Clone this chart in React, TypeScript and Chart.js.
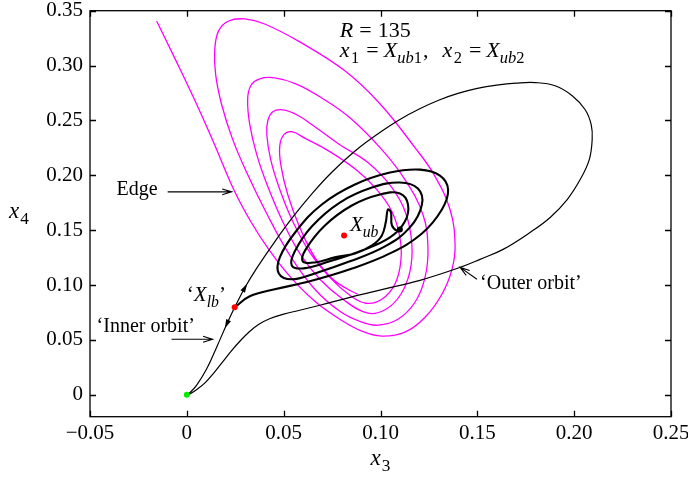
import { useEffect, useRef } from 'react';
import { Chart, registerables } from 'chart.js';

Chart.register(...registerables);

const FONT = '"Liberation Serif", "Times New Roman", Times, serif';

// Axis ticks
const xTicks = [-0.05, 0, 0.05, 0.1, 0.15, 0.2, 0.25];
const yTicks = [0, 0.05, 0.1, 0.15, 0.2, 0.25, 0.3, 0.35];

// Edge trajectory (magenta): the incoming 'Edge' branch
const edgeApproach: [number, number][] = [
  [-0.0156, 0.3406], [-0.0058, 0.3052], [0.004, 0.2688], [0.0139, 0.2297], [0.0242, 0.187],
  [0.033, 0.1579], [0.0423, 0.1325], [0.0532, 0.1079], [0.0661, 0.0852], [0.079, 0.0688],
  [0.0904, 0.0579], [0.1007, 0.0534],
];
// ... followed by four nested turns round X_ub
const edgeLoop1: [number, number][] = [
  [0.1126, 0.057], [0.123, 0.0706], [0.1317, 0.0916], [0.1369, 0.1143], [0.1385, 0.137],
  [0.1359, 0.1688], [0.1276, 0.2007], [0.1178, 0.2252], [0.0997, 0.2652], [0.0816, 0.2952],
  [0.0583, 0.3216], [0.0402, 0.3379], [0.0299, 0.3425], [0.0216, 0.3406], [0.0164, 0.3316],
  [0.0144, 0.3143], [0.0149, 0.2915], [0.018, 0.2643], [0.0237, 0.2325], [0.0314, 0.2007],
  [0.0407, 0.167], [0.0532, 0.127], [0.0661, 0.0961], [0.079, 0.0761], [0.0904, 0.0661],
  [0.0987, 0.0634],
];
const edgeLoop2: [number, number][] = [
  [0.109, 0.0688], [0.1178, 0.0843], [0.123, 0.107], [0.1245, 0.1343], [0.1219, 0.1643],
  [0.1126, 0.1961], [0.1007, 0.2234], [0.0842, 0.2525], [0.0687, 0.2716], [0.0563, 0.2834],
  [0.0454, 0.2888], [0.0376, 0.2879], [0.033, 0.2816], [0.0314, 0.2688], [0.0325, 0.2461],
  [0.0361, 0.2188], [0.0418, 0.1897], [0.0495, 0.1579], [0.0583, 0.1288], [0.0687, 0.1052],
  [0.0806, 0.087], [0.0935, 0.0743],
];
const edgeLoop3: [number, number][] = [
  [0.1028, 0.0779], [0.1105, 0.0916], [0.1152, 0.1125], [0.1162, 0.137], [0.1131, 0.1652],
  [0.1059, 0.1888], [0.0935, 0.2116], [0.079, 0.2279], [0.0661, 0.2443], [0.0568, 0.2552],
  [0.0495, 0.2597], [0.0444, 0.2579], [0.0418, 0.2497], [0.0413, 0.237], [0.0433, 0.2143],
  [0.048, 0.187], [0.0547, 0.1579], [0.0635, 0.1297], [0.0738, 0.107], [0.0842, 0.0906],
  [0.0925, 0.0834],
];
const edgeLoop4: [number, number][] = [
  [0.1007, 0.087], [0.1074, 0.1007], [0.1105, 0.1216], [0.11, 0.1434], [0.1059, 0.167],
  [0.0981, 0.187], [0.0873, 0.2052], [0.0738, 0.2216], [0.0614, 0.2334], [0.0542, 0.2397],
  [0.0501, 0.237], [0.048, 0.227], [0.0485, 0.2097], [0.0521, 0.1825], [0.0583, 0.1525],
  [0.0661, 0.1252], [0.0754, 0.1052], [0.0831, 0.0961], [0.0883, 0.0916],
];

// 'Outer orbit' (thin black): from X_lb, round the large loop, down to the origin
const outerOrbit: [number, number][] = [
  [0.0247, 0.0797], [0.03, 0.0977], [0.0361, 0.1154], [0.045, 0.1385], [0.055, 0.1625],
  [0.065, 0.184], [0.075, 0.203], [0.0878, 0.2235], [0.1, 0.2394], [0.11, 0.2509],
  [0.12, 0.2604], [0.13, 0.2684], [0.14, 0.2746], [0.15, 0.2792], [0.16, 0.2822],
  [0.17, 0.284], [0.18, 0.2845], [0.1902, 0.2816], [0.199, 0.2725], [0.2057, 0.2597],
  [0.2088, 0.2461], [0.2093, 0.2325], [0.2078, 0.2143], [0.2031, 0.1961], [0.1964, 0.1779],
  [0.1876, 0.1616], [0.1772, 0.1479], [0.1633, 0.1325], [0.1514, 0.1234], [0.1411, 0.1161],
  [0.1204, 0.1043], [0.1012, 0.0961], [0.0842, 0.0888], [0.0687, 0.0816], [0.0583, 0.077],
  [0.05, 0.0735], [0.043, 0.0695], [0.037, 0.064], [0.032, 0.057], [0.0275, 0.049],
  [0.023, 0.04], [0.0185, 0.03], [0.014, 0.02], [0.0095, 0.011], [0.005, 0.0045],
  [0.0018, 0.001], [0, 0],
];

// 'Inner orbit' (thin black): from X_lb down to the origin
const innerOrbit: [number, number][] = [
  [0.0247, 0.0797], [0.0206, 0.0643], [0.0154, 0.0434], [0.0102, 0.0234], [0.0051, 0.0088],
  [0.0014, 0.0016], [0, 0],
];

// Thick black trajectory spiralling round X_ub
const spiralOrbit: [number, number][] = [
  [0.0247, 0.0797], [0.0325, 0.0897], [0.0454, 0.0961], [0.0635, 0.1034], [0.0842, 0.1143],
  [0.1049, 0.1288], [0.1214, 0.147], [0.1317, 0.1688], [0.1349, 0.187], [0.1307, 0.1997],
  [0.1204, 0.2052], [0.1049, 0.2025], [0.0868, 0.1916], [0.0697, 0.1734], [0.0563, 0.1488],
  [0.048, 0.1252], [0.0475, 0.1106], [0.0542, 0.1052], [0.0661, 0.1106], [0.0842, 0.1216],
  [0.1023, 0.1352], [0.1152, 0.1525], [0.1214, 0.1734], [0.1193, 0.1879], [0.11, 0.1934],
  [0.0956, 0.1888], [0.079, 0.1752], [0.0645, 0.1534], [0.0557, 0.1306], [0.0542, 0.1179],
  [0.0604, 0.1152], [0.0738, 0.1216], [0.0904, 0.1315], [0.1049, 0.1434], [0.1126, 0.1579],
  [0.1142, 0.1734], [0.11, 0.1834], [0.0997, 0.1825], [0.0852, 0.1725], [0.0713, 0.1543],
  [0.0614, 0.1325], [0.0599, 0.1216], [0.0661, 0.1206], [0.0764, 0.1252], [0.0868, 0.1288],
  [0.0956, 0.1361], [0.1007, 0.1452], [0.1028, 0.1579], [0.1038, 0.1688], [0.1054, 0.1661],
  [0.1059, 0.1543], [0.109, 0.1488], [0.11, 0.1506],
];

// Marked points
const upperEquilibrium: [number, number][] = [[0.0812, 0.1452]];
const lowerEquilibrium: [number, number][] = [[0.0247, 0.0797]];
const originPoint: [number, number][] = [[0, 0]];
const spiralEnd: [number, number][] = [[0.11, 0.1506]];

type Run = { t: string; it?: boolean; sub?: boolean; gap?: number };

function runFont(r: Run, size: number) {
  const fs = r.sub ? size * 0.75 : size;
  return `${r.it ? 'italic ' : ''}${fs}px ${FONT}`;
}
function measureRuns(ctx: CanvasRenderingContext2D, runs: Run[], size: number) {
  let w = 0;
  for (const r of runs) {
    ctx.font = runFont(r, size);
    w += (r.gap || 0) + ctx.measureText(r.t).width;
  }
  return w;
}
function drawRuns(ctx: CanvasRenderingContext2D, runs: Run[], x: number, y: number, size: number, center = false) {
  let cx = center ? x - measureRuns(ctx, runs, size) / 2 : x;
  ctx.textAlign = 'left';
  ctx.textBaseline = 'alphabetic';
  for (const r of runs) {
    ctx.font = runFont(r, size);
    cx += r.gap || 0;
    ctx.fillText(r.t, cx, y + (r.sub ? size * 0.27 : 0));
    cx += ctx.measureText(r.t).width;
  }
}
function openArrow(ctx: CanvasRenderingContext2D, x1: number, y1: number, x2: number, y2: number) {
  const a = Math.atan2(y2 - y1, x2 - x1);
  const L = 10, h = 0.3;
  ctx.beginPath();
  ctx.moveTo(x1, y1);
  ctx.lineTo(x2, y2);
  ctx.moveTo(x2 - L * Math.cos(a - h), y2 - L * Math.sin(a - h));
  ctx.lineTo(x2, y2);
  ctx.lineTo(x2 - L * Math.cos(a + h), y2 - L * Math.sin(a + h));
  ctx.stroke();
}
function filledHead(ctx: CanvasRenderingContext2D, x: number, y: number, a: number) {
  const L = 9, w = 2.6;
  const c = Math.cos(a), s = Math.sin(a);
  ctx.beginPath();
  ctx.moveTo(x + c * L / 2, y + s * L / 2);
  ctx.lineTo(x - c * L / 2 - s * w, y - s * L / 2 + c * w);
  ctx.lineTo(x - c * L / 2 + s * w, y - s * L / 2 - c * w);
  ctx.closePath();
  ctx.fill();
}

const decor = {
  id: 'decor',
  afterDraw(chart: any) {
    const ctx: CanvasRenderingContext2D = chart.ctx;
    const { left, right, top, bottom } = chart.chartArea;
    const xs = chart.scales.x, ys = chart.scales.y;
    const X = (v: number) => xs.getPixelForValue(v);
    const Y = (v: number) => ys.getPixelForValue(v);
    ctx.save();
    ctx.strokeStyle = '#000';
    ctx.fillStyle = '#000';
    ctx.lineWidth = 1.3;
    ctx.strokeRect(left, top, right - left, bottom - top);
    const T = 6;
    ctx.beginPath();
    for (const v of xTicks) {
      const p = Math.round(X(v)) + 0.5;
      ctx.moveTo(p, bottom); ctx.lineTo(p, bottom - T);
      ctx.moveTo(p, top); ctx.lineTo(p, top + T);
    }
    for (const v of yTicks) {
      const p = Math.round(Y(v)) + 0.5;
      ctx.moveTo(left, p); ctx.lineTo(left + T, p);
      ctx.moveTo(right, p); ctx.lineTo(right - T, p);
    }
    ctx.stroke();

    // axis titles
    drawRuns(ctx, [{ t: 'x', it: true }, { t: '3', sub: true, gap: 1 }], (left + right) / 2, bottom + 48, 23, true);
    drawRuns(ctx, [{ t: 'x', it: true }, { t: '4', sub: true, gap: 1 }], 9, (top + bottom) / 2 + 4, 23);

    // annotations
    const M = 22;
    drawRuns(ctx, [{ t: 'R', it: true }, { t: '=', gap: 6 }, { t: '135', gap: 6 }], X(0.079), Y(0.3264), M);
    drawRuns(ctx, [
      { t: 'x', it: true }, { t: '1', sub: true, gap: 1.5 }, { t: '=', gap: 7 }, { t: 'X', it: true, gap: 5 },
      { t: 'ub', it: true, sub: true }, { t: '1', sub: true }, { t: ',', gap: 1 },
      { t: 'x', it: true, gap: 14 }, { t: '2', sub: true, gap: 1.5 }, { t: '=', gap: 7 }, { t: 'X', it: true, gap: 5 },
      { t: 'ub', it: true, sub: true }, { t: '2', sub: true },
    ], X(0.079), Y(0.3082), M);
    drawRuns(ctx, [{ t: 'X', it: true }, { t: 'ub', it: true, sub: true }], X(0.0842), Y(0.1488), 21);
    drawRuns(ctx, [{ t: '\u2018' }, { t: 'X', it: true }, { t: 'lb', it: true, sub: true }, { t: '\u2019' }], X(0.0), Y(0.0852), 21);

    const S = 20;
    drawRuns(ctx, [{ t: 'Edge' }], X(-0.0363), Y(0.1816), S);
    drawRuns(ctx, [{ t: '\u2018Inner orbit\u2019' }], X(-0.0466), Y(0.057), S);
    drawRuns(ctx, [{ t: '\u2018Outer orbit\u2019' }], X(0.1514), Y(0.0961), S);

    ctx.lineWidth = 1.1;
    openArrow(ctx, X(-0.0099), Y(0.1849), X(0.0232), Y(0.1849));
    openArrow(ctx, X(-0.0079), Y(0.0506), X(0.0133), Y(0.0506));
    openArrow(ctx, X(0.1498), Y(0.1052), X(0.1411), Y(0.1161));

    // direction heads on the orbits
    const head = (pts: [number, number][], i: number) => {
      const a = Math.atan2(Y(pts[i + 1][1]) - Y(pts[i - 1][1]), X(pts[i + 1][0]) - X(pts[i - 1][0]));
      filledHead(ctx, X(pts[i][0]), Y(pts[i][1]), a);
    };
    head(outerOrbit, 1);
    head(innerOrbit, 1);
    ctx.restore();
  },
};

function curve(pts: [number, number][], color: string, width: number) {
  return {
    data: pts.map(([x, y]) => ({ x, y })),
    showLine: true,
    borderColor: color,
    backgroundColor: color,
    borderWidth: width,
    pointRadius: 0,
    pointHoverRadius: 0,
    tension: 0.4,
    fill: false,
  };
}
function dots(pts: [number, number][], color: string, r: number) {
  return {
    data: pts.map(([x, y]) => ({ x, y })),
    showLine: false,
    backgroundColor: color,
    borderColor: color,
    borderWidth: 0,
    pointRadius: r,
    pointHoverRadius: r,
  };
}

const tickFmt = (v: number) => {
  if (Math.abs(v) < 1e-9) return '0';
  const s = Math.abs(v).toFixed(2);
  return v < 0 ? '\u2212' + s : s;
};

const edgeTrajectory: [number, number][] = [
  ...edgeApproach, ...edgeLoop1, ...edgeLoop2, ...edgeLoop3, ...edgeLoop4,
];

export default function App() {
  const ref = useRef<HTMLCanvasElement>(null);
  useEffect(() => {
    if (!ref.current) return;
    const chart = new Chart(ref.current, {
      type: 'scatter',
      data: {
        datasets: [
          dots(spiralEnd, '#000000', 3),
          dots(upperEquilibrium, '#ff0000', 3),
          dots(lowerEquilibrium, '#ff0000', 3),
          dots(originPoint, '#00ee00', 3),
          curve(spiralOrbit, '#000000', 2.1),
          curve(innerOrbit, '#000000', 1.2),
          curve(outerOrbit, '#000000', 1.2),
          curve(edgeTrajectory, '#ff00ff', 1.3),
        ] as any,
      },
      options: {
        responsive: false,
        devicePixelRatio: 1,
        animation: false,
        events: [],
        layout: { padding: { left: 0, top: 10.7, right: 17, bottom: 0 } },
        plugins: { legend: { display: false }, tooltip: { enabled: false } },
        scales: {
          x: {
            type: 'linear',
            min: -0.05,
            max: 0.25,
            grid: { display: false, drawTicks: false },
            border: { display: false },
            ticks: { font: { family: FONT, size: 21 }, color: '#000', padding: 4, callback: (v: any) => tickFmt(Number(v)), maxRotation: 0 },
            afterBuildTicks: (s: any) => { s.ticks = xTicks.map((value) => ({ value })); },
            afterFit: (s: any) => { s.height = 60.3; s.paddingLeft = 0; s.paddingRight = 0; },
          },
          y: {
            type: 'linear',
            min: -0.02,
            max: 0.35,
            grid: { display: false, drawTicks: false },
            border: { display: false },
            ticks: { font: { family: FONT, size: 21 }, color: '#000', padding: 7, callback: (v: any) => tickFmt(Number(v)) },
            afterBuildTicks: (s: any) => { s.ticks = yTicks.map((value) => ({ value })); },
            afterFit: (s: any) => { s.width = 90; s.paddingTop = 0; s.paddingBottom = 0; },
          },
        },
      } as any,
      plugins: [decor],
    });
    return () => chart.destroy();
  }, []);
  return (
    <div style={{ position: 'fixed', left: 0, top: 0, width: 688, height: 477, background: '#fff' }}>
      <canvas ref={ref} width={688} height={477} style={{ display: 'block', width: 688, height: 477 }} />
    </div>
  );
}
